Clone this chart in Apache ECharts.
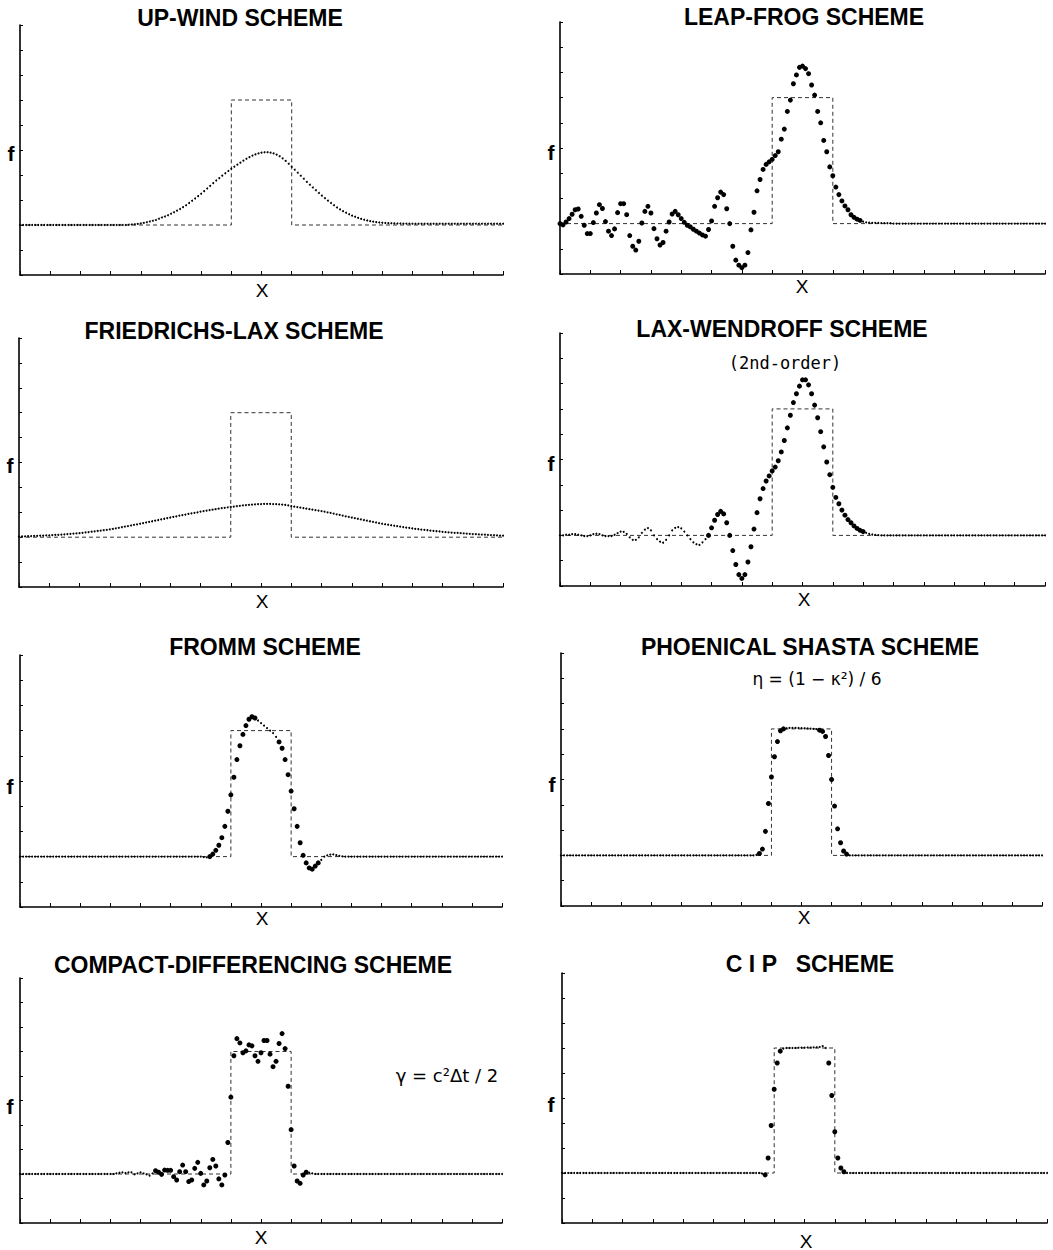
<!DOCTYPE html>
<html>
<head>
<meta charset="utf-8">
<title>Advection schemes</title>
<script src="https://cdn.jsdelivr.net/npm/echarts@6.0.0/dist/echarts.min.js"></script>
<style>
  html, body { margin: 0; padding: 0; background: #fff; }
  #chart { width: 1053px; height: 1250px; }
</style>
</head>
<body>
<div id="chart"></div>
<script>
// grid step of the solution samples, x runs 0..16
const DX = 0.1;

// initial square pulse
const squareX = [0, 7, 7, 9, 9, 16];
const squareF = [0, 0, 1, 1, 0, 0];

const upWind = [
  0,0,0,0,0,0,0,0,0,0,
  0,0,0,0,0,0,0,0,0,0,
  0,0,0,0,0,0,0,0,0,0,
  0,0,0,0,0,0,0.002,0.004,0.006,0.009,
  0.013,0.017,0.022,0.028,0.034,0.04,0.05,0.06,0.068,0.078,
  0.09,0.102,0.115,0.128,0.143,0.158,0.176,0.194,0.212,0.231,
  0.25,0.271,0.292,0.313,0.335,0.356,0.375,0.395,0.414,0.432,
  0.45,0.467,0.483,0.499,0.515,0.53,0.543,0.555,0.565,0.573,
  0.579,0.582,0.582,0.579,0.573,0.563,0.55,0.533,0.513,0.49,
  0.465,0.442,0.418,0.394,0.37,0.345,0.322,0.3,0.278,0.256,
  0.235,0.215,0.195,0.176,0.158,0.14,0.125,0.111,0.098,0.086,
  0.075,0.066,0.057,0.049,0.042,0.036,0.031,0.027,0.023,0.02,
  0.018,0.016,0.015,0.014,0.013,0.012,0.012,0.011,0.011,0.011,
  0.01,0.01,0.01,0.01,0.01,0.01,0.01,0.01,0.01,0.01,
  0.01,0.01,0.01,0.01,0.01,0.01,0.01,0.01,0.01,0.01,
  0.01,0.01,0.01,0.01,0.01,0.01,0.01,0.01,0.01,0.01,
  0.01
];

const leapFrog = [
  0,-0.01,0.013,0.04,0.074,0.11,0.116,0.058,-0.013,-0.079,
  -0.079,0.008,0.084,0.15,0.12,0.016,-0.06,-0.095,-0.042,0.087,
  0.158,0.158,0.071,-0.095,-0.18,-0.21,-0.14,0.005,0.097,0.137,
  0.084,-0.04,-0.12,-0.17,-0.15,-0.06,0.013,0.076,0.097,0.07,
  0.04,0.01,-0.013,-0.026,-0.045,-0.06,-0.075,-0.09,-0.1,-0.047,
  0.021,0.137,0.205,0.25,0.23,0.118,0,-0.18,-0.29,-0.33,
  -0.35,-0.33,-0.23,-0.05,0.09,0.26,0.35,0.43,0.47,0.49,
  0.51,0.54,0.57,0.67,0.75,0.89,0.98,1.11,1.18,1.24,
  1.25,1.23,1.19,1.1,1.02,0.89,0.8,0.66,0.57,0.45,
  0.38,0.29,0.23,0.18,0.14,0.11,0.07,0.05,0.035,0.025,
  0.015,0.01,0.008,0.006,0.005,0.005,0.004,0.004,0.003,0.003,
  0,0,0,0,0,0,0,0,0,0,
  0,0,0,0,0,0,0,0,0,0,
  0,0,0,0,0,0,0,0,0,0,
  0,0,0,0,0,0,0,0,0,0,
  0,0,0,0,0,0,0,0,0,0,
  0
];

const friedrichsLax = [
  0.005,0.006,0.007,0.008,0.009,0.01,0.011,0.012,0.013,0.014,
  0.015,0.016,0.018,0.019,0.021,0.023,0.025,0.027,0.029,0.03,
  0.032,0.035,0.038,0.041,0.044,0.047,0.05,0.053,0.056,0.059,
  0.062,0.066,0.071,0.075,0.08,0.085,0.089,0.094,0.099,0.103,
  0.108,0.113,0.118,0.123,0.128,0.133,0.138,0.143,0.148,0.153,
  0.158,0.163,0.168,0.173,0.178,0.182,0.187,0.191,0.196,0.2,
  0.205,0.209,0.213,0.217,0.221,0.225,0.229,0.233,0.236,0.24,
  0.243,0.246,0.249,0.252,0.255,0.257,0.259,0.261,0.263,0.265,
  0.266,0.267,0.267,0.267,0.266,0.265,0.264,0.262,0.259,0.255,
  0.25,0.246,0.242,0.238,0.234,0.23,0.226,0.222,0.218,0.214,
  0.21,0.205,0.2,0.195,0.19,0.184,0.179,0.174,0.168,0.163,
  0.158,0.153,0.148,0.143,0.138,0.133,0.128,0.123,0.118,0.113,
  0.108,0.104,0.1,0.096,0.092,0.089,0.085,0.081,0.077,0.074,
  0.07,0.067,0.064,0.061,0.059,0.056,0.053,0.051,0.048,0.046,
  0.043,0.041,0.039,0.037,0.035,0.034,0.032,0.03,0.028,0.027,
  0.025,0.024,0.022,0.021,0.02,0.018,0.017,0.016,0.014,0.013,
  0.012
];

const laxWendroff = [
  0,0,0.005,0.005,0.01,0.01,0.005,0,-0.005,-0.005,
  0,0.01,0.013,0.01,0,-0.005,-0.005,-0.005,0.005,0.018,
  0.03,0.028,0.012,-0.015,-0.035,-0.035,-0.015,0.02,0.045,0.058,
  0.04,0,-0.03,-0.05,-0.058,-0.035,0,0.04,0.06,0.066,
  0.055,0.03,0,-0.03,-0.055,-0.07,-0.075,-0.055,-0.03,0,
  0.06,0.12,0.165,0.19,0.17,0.1,0,-0.12,-0.23,-0.31,
  -0.34,-0.31,-0.21,-0.09,0.05,0.18,0.29,0.37,0.43,0.47,
  0.51,0.54,0.59,0.66,0.75,0.85,0.95,1.05,1.12,1.18,
  1.23,1.23,1.19,1.12,1.03,0.93,0.82,0.7,0.58,0.48,
  0.38,0.3,0.25,0.2,0.16,0.125,0.1,0.075,0.055,0.04,
  0.03,0.02,0.012,0.007,0.004,0.002,0,0,0,0,
  0,0,0,0,0,0,0,0,0,0,
  0,0,0,0,0,0,0,0,0,0,
  0,0,0,0,0,0,0,0,0,0,
  0,0,0,0,0,0,0,0,0,0,
  0,0,0,0,0,0,0,0,0,0,
  0
];

const fromm = [
  0,0,0,0,0,0,0,0,0,0,
  0,0,0,0,0,0,0,0,0,0,
  0,0,0,0,0,0,0,0,0,0,
  0,0,0,0,0,0,0,0,0,0,
  0,0,0,0,0,0,0,0,0,0,
  0,0,0,0,0,0,0,0,0,0,
  0,-0.004,-0.006,0,0.02,0.05,0.09,0.15,0.24,0.36,
  0.49,0.63,0.77,0.88,0.97,1.04,1.09,1.11,1.1,1.08,
  1.06,1.04,1.02,1,0.98,0.95,0.91,0.86,0.77,0.65,
  0.52,0.38,0.24,0.11,0.01,-0.05,-0.09,-0.1,-0.075,-0.05,
  -0.026,0,0.01,0.016,0.018,0.012,0.006,0.002,0,0,
  0,0,0,0,0,0,0,0,0,0,
  0,0,0,0,0,0,0,0,0,0,
  0,0,0,0,0,0,0,0,0,0,
  0,0,0,0,0,0,0,0,0,0,
  0,0,0,0,0,0,0,0,0,0,
  0
];

const shasta = [
  0,0,0,0,0,0,0,0,0,0,
  0,0,0,0,0,0,0,0,0,0,
  0,0,0,0,0,0,0,0,0,0,
  0,0,0,0,0,0,0,0,0,0,
  0,0,0,0,0,0,0,0,0,0,
  0,0,0,0,0,0,0,0,0,0,
  0,0,0,0,0,0.005,0.015,0.05,0.19,0.41,
  0.62,0.78,0.9,0.985,1,1.005,1.008,1.008,1.008,1.007,
  1.006,1.005,1.004,1.002,1,0.998,0.99,0.98,0.94,0.79,
  0.6,0.39,0.21,0.1,0.035,0.01,0,0,0,0,
  0,0,0,0,0,0,0,0,0,0,
  0,0,0,0,0,0,0,0,0,0,
  0,0,0,0,0,0,0,0,0,0,
  0,0,0,0,0,0,0,0,0,0,
  0,0,0,0,0,0,0,0,0,0,
  0,0,0,0,0,0,0,0,0,0,
  0
];

const compact = [
  0,0,0,0,0,0,0,0,0,0,
  0,0,0,0,0,0,0,0,0,0,
  0,0,0,0,0,0,0,0,0,0,
  0,0,0.005,0.01,0.014,0.008,0.014,0.014,-0.003,0.005,
  0.014,0.005,-0.003,-0.014,0.005,0.027,0.014,-0.003,0.032,0.03,
  0.03,-0.022,-0.049,0.019,0.073,0.019,-0.062,-0.049,0.046,0.095,
  0.005,-0.089,-0.057,0.051,0.119,0.065,-0.04,-0.089,-0.008,0.257,
  0.627,0.965,1.105,1.07,0.99,1.005,1.054,1.046,0.965,0.92,
  0.99,1.09,1.09,0.978,0.876,0.92,1.065,1.146,1.024,0.716,
  0.362,0.065,-0.057,-0.076,-0.008,0.014,0.01,0.005,0,0,
  0,0,0,0,0,0,0,0,0,0,
  0,0,0,0,0,0,0,0,0,0,
  0,0,0,0,0,0,0,0,0,0,
  0,0,0,0,0,0,0,0,0,0,
  0,0,0,0,0,0,0,0,0,0,
  0,0,0,0,0,0,0,0,0,0,
  0
];

const cip = [
  0,0,0,0,0,0,0,0,0,0,
  0,0,0,0,0,0,0,0,0,0,
  0,0,0,0,0,0,0,0,0,0,
  0,0,0,0,0,0,0,0,0,0,
  0,0,0,0,0,0,0,0,0,0,
  0,0,0,0,0,0,0,0,0,0,
  0,0,0,0,0,0,-0.005,-0.015,0.12,0.38,
  0.67,0.88,0.975,0.995,1,1,1,1,1.002,1.003,
  1.003,1.004,1.004,1.005,1.006,1.008,1.015,1,0.88,0.62,
  0.33,0.12,0.04,0.01,0,0,0,0,0,0,
  0,0,0,0,0,0,0,0,0,0,
  0,0,0,0,0,0,0,0,0,0,
  0,0,0,0,0,0,0,0,0,0,
  0,0,0,0,0,0,0,0,0,0,
  0,0,0,0,0,0,0,0,0,0,
  0,0,0,0,0,0,0,0,0,0,
  0
];

const panels = [
  { title: "UP-WIND SCHEME", values: upWind, rect: [20, 25, 483, 250], titleAt: [240, 18], fAt: [11, 153], xAt: [262, 290], big: [] },
  { title: "LEAP-FROG SCHEME", values: leapFrog, rect: [560, 22, 485, 252], titleAt: [804, 17], fAt: [551, 152], xAt: [802, 286], big: [[0, 99]] },
  { title: "FRIEDRICHS-LAX SCHEME", values: friedrichsLax, rect: [19, 338, 484, 249], titleAt: [234, 331], fAt: [10, 465], xAt: [262, 601], big: [] },
  { title: "LAX-WENDROFF SCHEME", values: laxWendroff, rect: [560, 333, 485, 253], titleAt: [782, 329], fAt: [551, 463], xAt: [804, 599], big: [[49, 100]],
    sub: { text: "(2nd-order)", at: [785, 363], font: '17px "DejaVu Sans Mono"' } },
  { title: "FROMM SCHEME", values: fromm, rect: [20, 655, 482, 252], titleAt: [265, 647], fAt: [10, 786], xAt: [262, 918], big: [[63, 78], [86, 99]] },
  { title: "PHOENICAL SHASTA SCHEME", values: shasta, rect: [561, 653, 481, 253], titleAt: [810, 647], fAt: [552, 784], xAt: [804, 917], big: [[66, 74], [86, 95]],
    sub: { text: "η = (1 − κ²) / 6", at: [817, 679], font: '17px "DejaVu Sans"' } },
  { title: "COMPACT-DIFFERENCING SCHEME", values: compact, rect: [20, 978, 482, 245], titleAt: [253, 965], fAt: [10, 1106], xAt: [261, 1237], big: [[45, 95]],
    sub: { text: "γ = c²Δt / 2", at: [447, 1075], font: '18px "DejaVu Sans"' } },
  { title: "C I P   SCHEME", values: cip, rect: [562, 973, 485, 250], titleAt: [810, 964], fAt: [551, 1104], xAt: [806, 1241], big: [[67, 72], [88, 93]] }
];

function isBig(ranges, i) {
  return ranges.some(function (r) { return i >= r[0] && i <= r[1]; });
}

function label(text, at, font) {
  return {
    type: "text",
    x: at[0],
    y: at[1],
    silent: true,
    style: { text: text, font: font, fill: "#000", align: "center", verticalAlign: "middle" }
  };
}

const grid = [];
const xAxis = [];
const yAxis = [];
const series = [];
const graphic = [];

panels.forEach(function (p, k) {
  grid.push({ left: p.rect[0], top: p.rect[1], width: p.rect[2], height: p.rect[3] });
  xAxis.push({
    type: "value",
    gridIndex: k,
    min: 0,
    max: 16,
    interval: 1,
    axisLine: { show: true, onZero: false, lineStyle: { color: "#000", width: 1.6 } },
    axisTick: { show: true, inside: true, length: 4, lineStyle: { color: "#000", width: 1 } },
    axisLabel: { show: false },
    splitLine: { show: false }
  });
  yAxis.push({
    type: "value",
    gridIndex: k,
    min: -0.4,
    max: 1.6,
    interval: 0.2,
    axisLine: { show: true, onZero: false, lineStyle: { color: "#000", width: 1.6 } },
    axisTick: { show: true, inside: true, length: 3, lineStyle: { color: "#000", width: 1 } },
    axisLabel: { show: false },
    splitLine: { show: false }
  });
  series.push({
    type: "line",
    xAxisIndex: k,
    yAxisIndex: k,
    data: squareX.map(function (x, i) { return [x, squareF[i]]; }),
    symbol: "none",
    silent: true,
    z: 1,
    lineStyle: { color: "#333", width: 1, type: [4, 3] }
  });
  series.push({
    type: "scatter",
    xAxisIndex: k,
    yAxisIndex: k,
    data: p.values.map(function (f, i) { return [+(i * DX).toFixed(1), f]; }),
    symbol: "circle",
    symbolSize: function (v, params) { return isBig(p.big, params.dataIndex) ? 5 : 2; },
    silent: true,
    z: 2,
    itemStyle: { color: "#000", opacity: 1 }
  });
  graphic.push(label(p.title, p.titleAt, 'bold 23px "Liberation Sans"'));
  graphic.push(label("f", p.fAt, 'bold 21px "Liberation Sans"'));
  graphic.push(label("X", p.xAt, '19px "Liberation Sans"'));
  if (p.sub) {
    graphic.push(label(p.sub.text, p.sub.at, p.sub.font));
  }
});

const chart = echarts.init(document.getElementById("chart"), null, { renderer: "svg" });
chart.setOption({
  animation: false,
  backgroundColor: "#fff",
  grid: grid,
  xAxis: xAxis,
  yAxis: yAxis,
  series: series,
  graphic: graphic
});
</script>
</body>
</html>
